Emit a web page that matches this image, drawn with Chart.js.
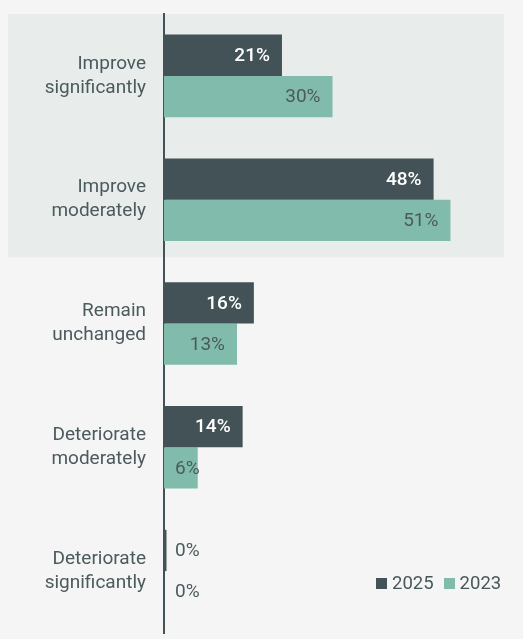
<!DOCTYPE html>
<html>
<head>
<meta charset="utf-8">
<script src="https://cdn.jsdelivr.net/npm/chart.js@4"></script>
<style>
  html, body { margin: 0; padding: 0; background: #f5f5f5; }
  #wrap { position: relative; width: 523px; height: 639px; }
  #legend {
    position: absolute; left: 376px; top: 572px;
    display: flex; align-items: center;
    font-family: Roboto, sans-serif; font-size: 18.5px; color: #47575a;
  }
  #legend .item { display: flex; align-items: center; margin-right: 10px; }
  #legend .box { width: 11px; height: 11px; margin-right: 5px; }
</style>
</head>
<body>
<div id="wrap">
  <canvas id="chart"></canvas>
  <div id="legend"></div>
</div>
<script>
// Chart data
const categories = [
    ['Improve', 'significantly'],
    ['Improve', 'moderately'],
    ['Remain', 'unchanged'],
    ['Deteriorate', 'moderately'],
    ['Deteriorate', 'significantly']
];
const seriesNames = ['2025', '2023'];
const values2025 = [21, 48, 16, 14, 0];
const values2023 = [30, 51, 13, 6, 0];

const DARK = '#435256';
const TEAL = '#80bbab';
const TEXT = '#4b5a5d';

/**
 * Grey band behind the two "improve" rows
 */
const bandPlugin = {
    id: 'band',
    beforeDraw(chart) {
        const { ctx, chartArea, scales } = chart;
        const bottom = scales.y.getPixelForValue(1.465);
        ctx.save();
        ctx.fillStyle = '#e8ecea';
        ctx.fillRect(8, chartArea.top, 504 - 8, bottom - chartArea.top);
        ctx.restore();
    }
};

/**
 * Value labels: inside the bar end when they fit, otherwise just right of the axis
 */
const valueLabels = {
    id: 'valueLabels',
    afterDatasetsDraw(chart) {
        const { ctx } = chart;
        ctx.save();
        ctx.textBaseline = 'middle';
        chart.data.datasets.forEach((ds, i) => {
            chart.getDatasetMeta(i).data.forEach((bar, j) => {
                const text = ds.data[j] + '%';
                ctx.font = '19px Roboto, sans-serif';
                const w = ctx.measureText(text).width;
                const barW = bar.x - bar.base;
                if (barW >= w + 24) {
                    ctx.textAlign = 'right';
                    if (i === 0) {
                        ctx.font = '500 19px Roboto, sans-serif';
                        ctx.fillStyle = '#ffffff';
                    } else {
                        ctx.fillStyle = TEXT;
                    }
                    ctx.fillText(text, bar.x - 12, bar.y + 1);
                } else {
                    ctx.textAlign = 'left';
                    ctx.fillStyle = TEXT;
                    ctx.fillText(text, bar.base + 11, bar.y + 1);
                }
            });
        });
        ctx.restore();
    }
};

const ctx = document.getElementById('chart');
const chart = new Chart(ctx, {
    type: 'bar',
    data: {
        labels: categories,
        datasets: [{
            label: seriesNames[0],
            data: values2025,
            backgroundColor: DARK,
            minBarLength: 2.5
        }, {
            label: seriesNames[1],
            data: values2023,
            backgroundColor: TEAL
        }]
    },
    options: {
        indexAxis: 'y',
        responsive: true,
        maintainAspectRatio: false,
        animation: false,
        categoryPercentage: 0.667,
        barPercentage: 1,
        layout: { padding: { left: 0, top: 14, right: 22, bottom: 6 } },
        plugins: {
            legend: { display: false },
            tooltip: { enabled: false }
        },
        scales: {
            x: { display: false, min: 0, max: 60 },
            y: {
                afterFit: (scale) => {
                    scale.width = 164;
                    scale.paddingTop = 0;
                    scale.paddingBottom = 0;
                },
                grid: { display: false, drawTicks: false },
                border: { display: true, color: DARK, width: 2 },
                ticks: {
                    padding: 18,
                    color: TEXT,
                    font: { family: 'Roboto, sans-serif', size: 19, lineHeight: '24px' }
                }
            }
        }
    },
    plugins: [bandPlugin, valueLabels]
});

// HTML legend
const legendEl = document.getElementById('legend');
chart.data.datasets.forEach(ds => {
    const item = document.createElement('div');
    item.className = 'item';
    item.innerHTML = `<span class="box" style="background:${ds.backgroundColor}"></span><span>${ds.label}</span>`;
    legendEl.appendChild(item);
});
</script>
</body>
</html>
